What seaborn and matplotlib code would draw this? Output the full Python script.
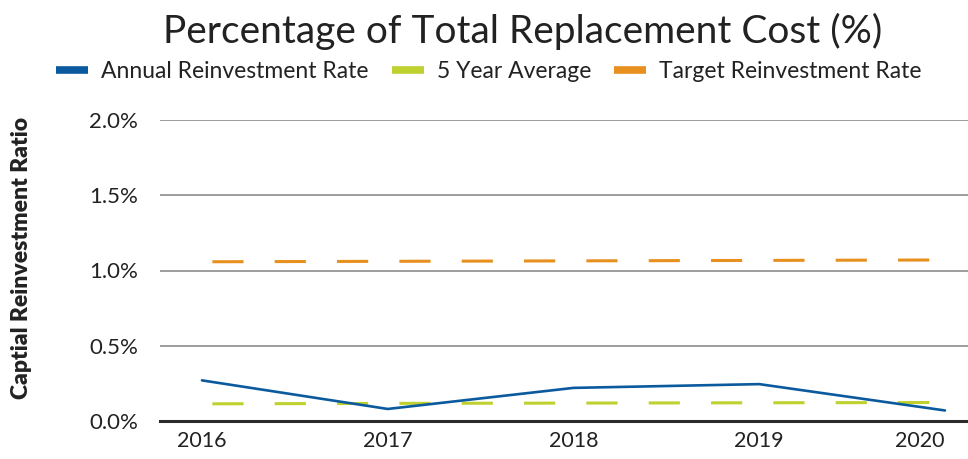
import numpy as np
import pandas as pd
import matplotlib
matplotlib.use("Agg")
import matplotlib.pyplot as plt
from matplotlib.lines import Line2D
from matplotlib.ticker import FuncFormatter
import seaborn as sns

# values (in %)
years = ["2016", "2017", "2018", "2019", "2020"]
annual_rate = [0.27, 0.08, 0.22, 0.245, 0.07]
five_year_avg = [0.114, 0.117, 0.119, 0.121, 0.123]
target_rate = [1.058, 1.061, 1.064, 1.067, 1.07]

series_names = ["Annual Reinvestment Rate", "5 Year Average", "Target Reinvestment Rate"]
colors = ["#0B5A9E", "#BFD12F", "#E8901F"]
y_ticks = [0.0, 0.5, 1.0, 1.5, 2.0]

sns.set_style("white")
plt.rcParams["font.family"] = ["Lato", "DejaVu Sans"]

fig = plt.figure(figsize=(9.68, 4.59), dpi=100)
ax = fig.add_axes([160 / 968, 1 - 421 / 459, 808 / 968, 301 / 459])

x = np.arange(len(years))
df = pd.DataFrame({"x": x, "annual": annual_rate, "avg": five_year_avg, "target": target_rate})

sns.lineplot(data=df, x="x", y="annual", ax=ax, color=colors[0], linewidth=1.9, zorder=4)
sns.lineplot(data=df, x="x", y="avg", ax=ax, color=colors[1], linewidth=2.2, zorder=3)
sns.lineplot(data=df, x="x", y="target", ax=ax, color=colors[2], linewidth=2.2, zorder=3)
# dashed pattern for the average and target lines (starts with a gap, like the original)
for line in ax.get_lines()[1:]:
    line.set_linestyle((17.0, (10.2, 10.2)))
    line.set_dash_capstyle("butt")

ax.set_xlim(-0.226, 4.124)
ax.set_ylim(0, 2.0)
ax.set_xticks(x)
ax.set_xticklabels(years)
ax.set_yticks(y_ticks)
ax.yaxis.set_major_formatter(FuncFormatter(lambda v, p: f"{v:.1f}%"))

ax.grid(axis="y", color="#8c8c8c", linewidth=1.2)
ax.set_axisbelow(True)
for side in ["top", "right", "left"]:
    ax.spines[side].set_visible(False)
ax.spines["bottom"].set_color("#2b2b2b")
ax.spines["bottom"].set_linewidth(2.2)
ax.spines["bottom"].set_zorder(5)
ax.tick_params(axis="y", length=0, labelsize=16, labelcolor="#222222", pad=16)
ax.tick_params(axis="x", length=0, labelsize=15.5, labelcolor="#222222", pad=7)
ax.get_xticklabels()[-1].set_horizontalalignment("right")
ax.get_xticklabels()[-1].set_x(4.124)

ax.set_xlabel("")
ax.set_ylabel("")
fig.text(22 / 968, 1 - 258 / 459, "Captial Reinvestment Ratio", rotation=90,
         ha="center", va="center", fontsize=16.5, fontweight="heavy", color="#222222")

fig.text(523 / 968, 1 - 31 / 459, "Percentage of Total Replacement Cost (%)",
         ha="center", va="center", fontsize=28, color="#222222")

handles = [Line2D([0], [0], color=c, linewidth=5.5, solid_capstyle="butt") for c in colors]
fig.legend(handles, series_names, loc="center", bbox_to_anchor=(489 / 968, 1 - 72 / 459),
           ncol=3, frameon=False, fontsize=16.5, handlelength=1.4, handletextpad=0.57,
           columnspacing=1.0, labelcolor="#222222")

plt.savefig("out.png", dpi=100)
plt.close()
